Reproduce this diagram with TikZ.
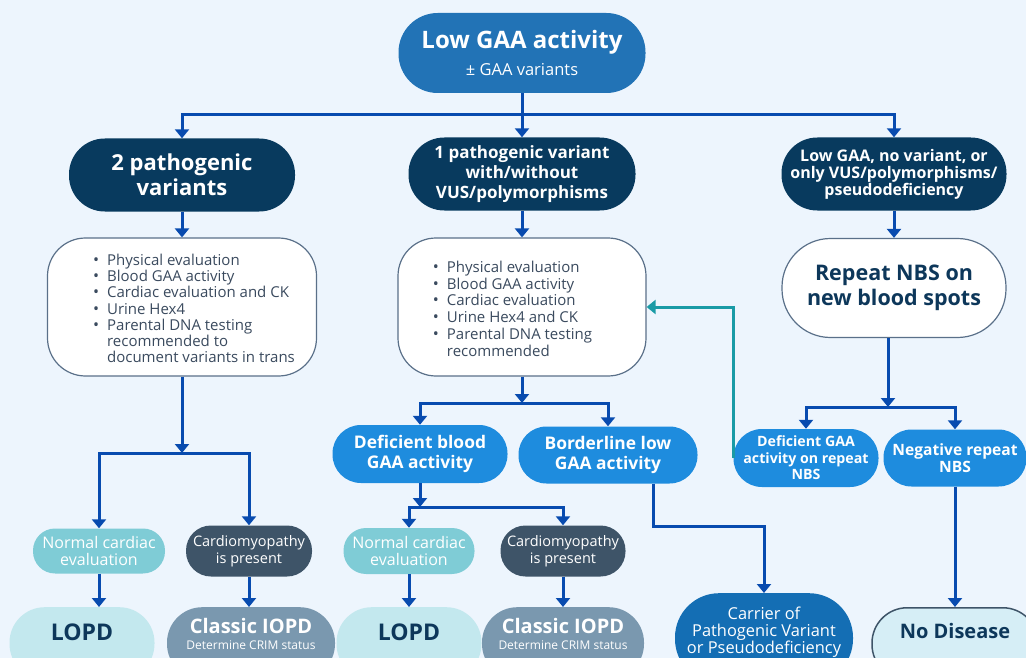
\documentclass[tikz,border=0pt]{standalone}
\usepackage{fontspec}
\setmainfont{Open Sans}
\usetikzlibrary{arrows.meta}

\definecolor{bgblue}{HTML}{EDF5FD}
\definecolor{topblue}{HTML}{2273B6}
\definecolor{navy}{HTML}{083A5E}
\definecolor{navytext}{HTML}{0D375A}
\definecolor{brightblue}{HTML}{1E8CDE}
\definecolor{carrierblue}{HTML}{146EB4}
\definecolor{normteal}{HTML}{7FCCD6}
\definecolor{lopdteal}{HTML}{C3E8EE}
\definecolor{slate}{HTML}{3E5468}
\definecolor{iopdgrey}{HTML}{7A98AF}
\definecolor{nodisfill}{HTML}{D6EEF6}
\definecolor{linkblue}{HTML}{084BAF}
\definecolor{returnteal}{HTML}{1A9BA6}
\definecolor{listtext}{HTML}{3A4A5E}
\definecolor{boxline}{HTML}{5A7089}

\newcommand{\fsz}[2]{\fontsize{#1}{#2}\selectfont}
\newcommand{\blt}{{\fsz{16}{16}\textbullet}}

\begin{document}
\begin{tikzpicture}[x=1pt, y=-1pt,
		pill/.style 2 args={minimum width=#1pt, minimum height=#2pt, rounded corners=#2*0.49pt, inner sep=0pt, align=center},
		listbox/.style={draw=boxline, line width=1.2pt, fill=white, rounded corners=38pt, inner sep=0pt, minimum height=138pt, text=listtext},
		link/.style={draw=linkblue, line width=3pt},
		flow/.style={link, -{Triangle[width=14pt, length=9pt]}},
		back/.style={draw=returnteal, line width=3pt, -{Triangle[width=14pt, length=9pt]}}]
		\path[use as bounding box, fill=bgblue] (0,0) rectangle (1026,658);
		\clip (0,0) rectangle (1026,658);

			% top and genotype row
			\node[pill={247}{80}, fill=topblue, text=white, font=\fsz{16.5}{27}] (low) at (522,53) {{\fsz{24}{27}\bfseries Low GAA activity}\\ ± GAA variants};
			\node[pill={226}{73}, fill=navy, text=white, font=\fsz{22}{25}\bfseries] (two) at (182,175) {2 pathogenic\\variants};
			\node[pill={227}{73}, fill=navy, text=white, font=\fsz{17}{20}\bfseries] (one) at (522,174) {1 pathogenic variant\\with/without\\VUS/polymorphisms};
			\node[pill={225}{73}, fill=navy, text=white, font=\fsz{16}{17}\bfseries] (novar) at (894,174) {Low GAA, no variant, or\\only VUS/polymorphisms/\\pseudodeficiency};

			% work-up boxes
			\node[listbox, minimum width=269pt, font=\fsz{15}{16.2}] (evaltwo) at (182,307) {\begin{tabular}{@{\hspace{24pt}}l@{\hspace{8pt}}l@{}}
				\blt & \rule{0pt}{19pt}Physical evaluation\\
				\blt & Blood GAA activity\\
				\blt & Cardiac evaluation and CK\\
				\blt & Urine Hex4\\
				\blt & Parental DNA testing\\
				 & recommended to\\
				 & document variants in trans
			\end{tabular}};
			\node[listbox, minimum width=248pt, font=\fsz{15}{16.8}] (evalone) at (522,307) {\begin{tabular}{@{}l@{\hspace{8pt}}l@{\hspace{19pt}}}
				\blt & \rule{0pt}{19.7pt}Physical evaluation\\
				\blt & Blood GAA activity\\
				\blt & Cardiac evaluation\\
				\blt & Urine Hex4 and CK\\
				\blt & Parental DNA testing\\
				 & recommended
			\end{tabular}};
			\node[pill={224}{99}, draw=boxline, line width=1.2pt, fill=white, text=navytext, font=\fsz{21.5}{25}\bfseries] (repeat) at (894,288) {Repeat NBS on\\new blood spots};

			% activity results
			\node[pill={175}{58}, fill=brightblue, text=white, font=\fsz{17.4}{20}\bfseries] (defblood) at (420,454) {Deficient blood\\GAA activity};
			\node[pill={179}{57}, fill=brightblue, text=white, font=\fsz{17.4}{20}\bfseries] (borderline) at (608,455) {Borderline low\\GAA activity};
			\node[pill={145}{58}, fill=brightblue, text=white, font=\fsz{14.2}{16.5}\bfseries] (defrepeat) at (806,458) {Deficient GAA\\activity on repeat\\NBS};
			\node[pill={143}{57}, fill=brightblue, text=white, font=\fsz{15.6}{17}\bfseries] (negrepeat) at (955,458) {Negative repeat\\NBS};

			% cardiac results
			\node[pill={132}{45}, fill=normteal, text=white, font=\fsz{16}{17}] (normtwo) at (99,551) {Normal cardiac\\evaluation};
			\node[pill={126}{51}, fill=slate, text=white, font=\fsz{14.5}{17}] (cardiotwo) at (249,551) {Cardiomyopathy\\is present};
			\node[pill={131}{46}, fill=normteal, text=white, font=\fsz{16}{17}] (normone) at (409,551) {Normal cardiac\\evaluation};
			\node[pill={125}{51}, fill=slate, text=white, font=\fsz{14.5}{17}] (cardioone) at (563,551) {Cardiomyopathy\\is present};

			% outcomes (cut by the lower edge)
			\node[pill={145}{72}, anchor=north, fill=lopdteal, text=navytext, font=\fsz{23}{25}\bfseries] (lopdtwo) at (82,607) {LOPD\rule[-22pt]{0pt}{22pt}};
			\node[pill={168}{72}, anchor=north, fill=iopdgrey, text=white, font=\fsz{20}{16}\bfseries] (iopdtwo) at (251,607) {Classic IOPD\\{\fsz{12}{16}\mdseries Determine CRIM status}\rule[-19pt]{0pt}{19pt}};
			\node[pill={145}{72}, anchor=north, fill=lopdteal, text=navytext, font=\fsz{23}{25}\bfseries] (lopdone) at (409,607) {LOPD\rule[-22pt]{0pt}{22pt}};
			\node[pill={162}{72}, anchor=north, fill=iopdgrey, text=white, font=\fsz{20}{16}\bfseries] (iopdone) at (563,607) {Classic IOPD\\{\fsz{12}{16}\mdseries Determine CRIM status}\rule[-19pt]{0pt}{19pt}};
			\node[pill={178}{90}, anchor=north, fill=carrierblue, text=white, font=\fsz{16.4}{17}] (carrier) at (764,593) {Carrier of\\Pathogenic Variant\\or Pseudodeficiency\rule[-16.5pt]{0pt}{16.5pt}};
			\node[pill={166}{72}, anchor=north, draw=slate, line width=1.5pt, fill=nodisfill, text=navytext, font=\fsz{20}{22}\bfseries] (nodisease) at (955,607) {No Disease\rule[-25pt]{0pt}{25pt}};

			% connectors
			\coordinate (split) at (522,115);
			\draw[link] (low) -- (split);
			\draw[flow] (split) -| (two);
			\draw[flow] (split) -- (one);
			\draw[flow] (split) -| (novar);
			\draw[flow] (two) -- (evaltwo);
			\draw[flow] (one) -- (evalone);
			\draw[flow] (novar) -- (repeat);

			\coordinate (splittwo) at (182,453);
			\draw[flow] (evaltwo) -- (splittwo);
			\draw[flow] (splittwo) -| (normtwo);
			\draw[flow] (splittwo) -| (cardiotwo);
			\draw[flow] (normtwo.south) -- (normtwo.south |- lopdtwo.north);
			\draw[flow] (cardiotwo.south) -- (cardiotwo.south |- iopdtwo.north);

			\coordinate (splitone) at (522,403);
			\draw[flow] (evalone) -- (splitone);
			\draw[flow] (splitone) -| (defblood);
			\draw[flow] (splitone) -| (borderline);
			\coordinate (splitdef) at (420,507);
			\draw[flow] (defblood) -- (splitdef);
			\draw[flow] (splitdef) -| (normone);
			\draw[flow] (splitdef) -| (cardioone);
			\draw[flow] (normone) -- (lopdone);
			\draw[flow] (cardioone) -- (iopdone);

			\coordinate (splitrep) at (888,407);
			\draw[flow] (repeat.south -| splitrep) -- (splitrep);
			\draw[flow] (splitrep) -| (defrepeat);
			\draw[flow] (splitrep) -| (negrepeat);
			\draw[flow] (negrepeat) -- (nodisease);

			\coordinate (carrierbend) at (653,526);
			\draw[flow] (borderline.south -| carrierbend) -- (carrierbend) -| (carrier);
			\draw[back] (defrepeat.west) |- (evalone.east);
		\end{tikzpicture}
\end{document}
